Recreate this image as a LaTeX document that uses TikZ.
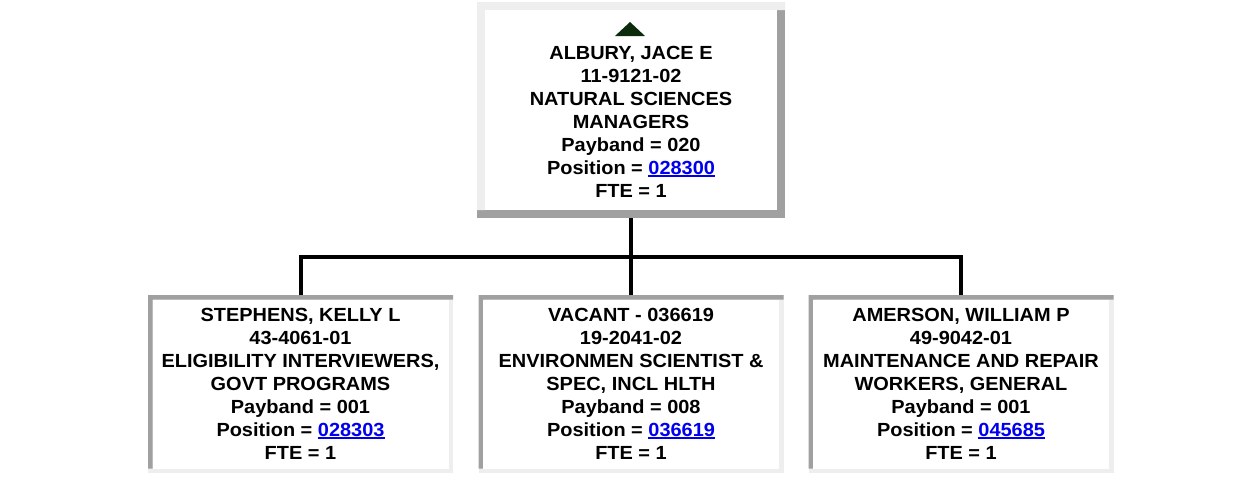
\documentclass[tikz,border=0pt]{standalone}
\usepackage{fontspec}
\setmainfont{Liberation Sans}[FakeStretch=1.05]
\usetikzlibrary{calc}
\definecolor{boxlite}{HTML}{EEEEEE}
\definecolor{boxdark}{HTML}{A0A0A0}
\definecolor{linkblue}{HTML}{0000EE}
\definecolor{arrowgreen}{HTML}{0B2B0B}
\newcommand\lnk[1]{\textcolor{linkblue}{\setbox0\hbox{#1}\rlap{\rule[-2.6pt]{\wd0}{1.8pt}}\box0}}
\begin{document}
\begin{tikzpicture}[x=1pt,y=-1pt,
  boxshape/.style={inner sep=0pt,outer sep=0pt,draw=none,rectangle},
  topbox/.style={boxshape,minimum width=308pt,minimum height=216pt},
  lowbox/.style={boxshape,minimum width=305pt,minimum height=178pt},
  txt/.style={align=center,inner sep=0pt,font=\bfseries\fontsize{19}{23}\selectfont},
  conn/.style={line width=4pt,line join=miter}]
\useasboundingbox (0,0) rectangle (1252,480);
\fill[white] (0,0) rectangle (1252,480);

% boxes
\node[topbox] (top) at (631,110) {};
\node[lowbox] (b1) at (300.5,384) {};
\node[lowbox] (b2) at (631,384) {};
\node[lowbox] (b3) at (961,384) {};

% raised top box border
\fill[boxdark] (top.north west) rectangle (top.south east);
\fill[boxlite] (top.north west) -- (top.north east) -- ++(0,8) -- ($(top.north west)+(8,8)$)
  -- ($(top.south west)+(8,-8)$) -- ($(top.south west)+(0,-8)$) -- cycle;
\fill[white] ($(top.north west)+(8,8)$) rectangle ($(top.south east)+(-8,-8)$);

% inset lower box borders
\foreach \b in {b1,b2,b3}{
  \fill[boxlite] (\b.north west) rectangle (\b.south east);
  \fill[boxdark] (\b.north west) -- (\b.north east) -- ++(0,4.5) -- ($(\b.north west)+(4.5,4.5)$)
    -- ($(\b.south west)+(4.5,-4.5)$) -- ($(\b.south west)+(0,-4.5)$) -- cycle;
  \fill[white] ($(\b.north west)+(4.5,4.5)$) rectangle ($(\b.south east)+(-4.5,-4.5)$);
}

% up arrow icon
\fill[arrowgreen] ($(top.north)+(-16,34)$) -- ($(top.north)+(14,34)$) -- ($(top.north)+(-1,20)$) -- cycle;

% texts
\node[txt] (ttop) at ($(top.center)+(0,11.5)$) {ALBURY, JACE E\\11-9121-02\\NATURAL SCIENCES\\MANAGERS\\Payband = 020\\Position = \lnk{028300}\\FTE = 1};
\node[txt] (t1) at ($(b1.center)+(0,-0.5)$) {STEPHENS, KELLY L\\43-4061-01\\ELIGIBILITY INTERVIEWERS,\\GOVT PROGRAMS\\Payband = 001\\Position = \lnk{028303}\\FTE = 1};
\node[txt] (t2) at ($(b2.center)+(0,-0.5)$) {VACANT - 036619\\19-2041-02\\ENVIRONMEN SCIENTIST \&\\SPEC, INCL HLTH\\Payband = 008\\Position = \lnk{036619}\\FTE = 1};
\node[txt] (t3) at ($(b3.center)+(0,-0.5)$) {AMERSON, WILLIAM P\\49-9042-01\\MAINTENANCE AND REPAIR\\WORKERS, GENERAL\\Payband = 001\\Position = \lnk{045685}\\FTE = 1};

% connectors
\draw[conn] (top.south) -- ++(0,39) coordinate (j);
\draw[conn] (b1.north) |- (j) -| (b3.north);
\draw[conn] (j) -- (b2.north);
\end{tikzpicture}
\end{document}
